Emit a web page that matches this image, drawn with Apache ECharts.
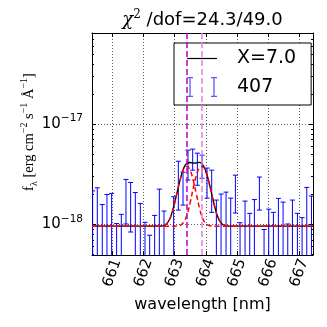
<!DOCTYPE html>
<html>
<head>
<meta charset="utf-8">
<script src="https://cdn.jsdelivr.net/npm/echarts@6/dist/echarts.min.js"></script>
<style>
  html, body { margin: 0; padding: 0; background: #fff; }
  #chart { width: 327px; height: 327px; }
</style>
</head>
<body>
<div id="chart"></div>
<script>
// spectral pixels [nm]
const wavelength = [660.37, 660.52, 660.68, 660.83, 660.98, 661.14, 661.29, 661.44, 661.59, 661.74,
  661.90, 662.05, 662.20, 662.36, 662.51, 662.66, 662.82, 662.97, 663.12, 663.27,
  663.43, 663.58, 663.73, 663.88, 664.04, 664.19, 664.34, 664.49, 664.65, 664.80,
  664.95, 665.10, 665.26, 665.41, 665.56, 665.72, 665.87, 666.02, 666.17, 666.33,
  666.48, 666.63, 666.78, 666.94, 667.09, 667.24, 667.39];
// flux and 1-sigma error, in 1e-18 erg/cm2/s/A
const flux = [1.24, 1.37, 0.68, 1.07, 1.13, 0.12, 0.36, 1.91, 1.73, 1.16,
  0.72, 0.15, -0.12, 0.32, 1.32, 0.46, -0.85, 0.98, 2.83, 2.44,
  4.14, 4.56, 3.80, 3.90, 2.74, 2.40, 0.83, 1.08, 1.16, 0.91,
  2.20, 0.14, 0.80, 0.39, 0.86, 2.18, -0.01, 0.52, 0.42, 0.91,
  0.76, 0.11, 0.84, 0.39, 0.27, 1.38, 1.00];
const fluxErr = [0.92, 0.95, 0.90, 0.92, 0.91, 0.90, 0.90, 0.90, 0.89, 0.92,
  0.90, 0.90, 0.90, 0.91, 0.93, 0.90, 0.90, 0.91, 1.44, 0.88,
  1.37, 1.08, 1.34, 1.01, 0.91, 1.08, 0.92, 0.93, 0.94, 0.92,
  0.90, 0.90, 0.91, 0.90, 0.91, 0.79, 0.90, 0.90, 0.90, 0.91,
  0.91, 0.90, 0.91, 0.90, 0.90, 0.96, 0.92];

// fitted model (same units), total and the two line components
const modelWave = [660.35, 662.4, 662.5, 662.6, 662.7, 662.8, 662.9, 663.0, 663.1, 663.2,
  663.3, 663.4, 663.5, 663.6, 663.7, 663.8, 663.9, 664.0, 664.1, 664.2,
  664.3, 664.4, 664.5, 664.6, 664.7, 664.8, 667.44];
const modelTotal = [0.96, 0.96, 0.961, 0.965, 0.99, 1.07, 1.26, 1.635, 2.226, 2.967,
  3.688, 4.09, 4.15, 4.089, 4.114, 4.156, 3.957, 3.391, 2.665, 1.953,
  1.45, 1.16, 1.03, 0.98, 0.965, 0.96, 0.96];
const modelComp1 = [0.96, 0.96, 0.961, 0.965, 0.99, 1.07, 1.26, 1.63, 2.22, 2.939,
  3.587, 3.795, 3.449, 2.737, 1.992, 1.448, 1.147, 1.019, 0.975, 0.963,
  0.96, 0.96, 0.96, 0.96, 0.96, 0.96, 0.96];
const modelComp2 = [0.96, 0.96, 0.96, 0.96, 0.96, 0.96, 0.96, 0.961, 0.966, 0.988,
  1.061, 1.255, 1.661, 2.312, 3.082, 3.668, 3.770, 3.332, 2.65, 1.95,
  1.45, 1.16, 1.03, 0.98, 0.965, 0.96, 0.96];

const lineCenters = [663.387, 663.868];
const lineColors = ['#bf00bf', '#e080e0'];

const xTicks = [661, 662, 663, 664, 665, 666, 667];
const yTickExp = [-18, -17];
const yMinor = [0.5, 0.6, 0.7, 0.8, 0.9, 2, 3, 4, 5, 6, 7, 8, 9, 20, 30, 40, 50, 60, 70];

const X_MIN = 660.35, X_MAX = 667.44;
const Y_MIN = -18.305, Y_MAX = -16.09;
const BAR_COLOR = '#0000ff';

// log10 of a value given in units of 1e-18
const lg = v => Math.log10(v) - 18;

const chart = echarts.init(document.getElementById('chart'), null, { renderer: 'canvas' });

const pairs = (xs, ys) => xs.map((x, i) => [x, lg(ys[i])]);

const errData = wavelength.map((w, i) => {
  const hi = flux[i] + fluxErr[i];
  const lo = flux[i] - fluxErr[i];
  return [w, hi > 0 ? lg(hi) : Y_MIN - 1, lo > 0 ? lg(lo) : Y_MIN - 1];
});

function renderErrorBar(params, api) {
  const top = api.coord([api.value(0), api.value(1)]);
  const bot = api.coord([api.value(0), api.value(2)]);
  const cap = 2.5;
  const style = { stroke: BAR_COLOR, lineWidth: 1 };
  return {
    type: 'group',
    children: [
      { type: 'line', shape: { x1: top[0], y1: top[1], x2: bot[0], y2: bot[1] }, style },
      { type: 'line', shape: { x1: top[0] - cap, y1: top[1], x2: top[0] + cap, y2: top[1] }, style },
      { type: 'line', shape: { x1: bot[0] - cap, y1: bot[1], x2: bot[0] + cap, y2: bot[1] }, style }
    ]
  };
}

// legend glyphs as small inline svgs: a plain line, and two capped error bars
const svgUri = body => 'data:image/svg+xml;charset=utf-8,' + encodeURIComponent(
  '<svg xmlns="http://www.w3.org/2000/svg" width="30" height="20" viewBox="0 0 30 20">' + body + '</svg>');
const LINE_IMG = svgUri('<path d="M0,10.5H30" stroke="#000" stroke-width="1.2" fill="none"/>');
const ERRBAR_IMG = svgUri('<path d="M3,0.5V19.5M27,0.5V19.5M0,0.5H6M0,19.5H6M24,0.5H30M24,19.5H30" ' +
  'stroke="#5a5aff" stroke-width="1.3" fill="none"/>');

const tickStyle = { show: true, inside: true, length: 4, lineStyle: { color: '#000', width: 1 } };
const frameLine = { show: true, onZero: false, lineStyle: { color: '#000', width: 1 } };
const gridLine = { show: true, lineStyle: { color: '#333', width: 0.8, type: [1, 2] } };

const option = {
  animation: false,
  backgroundColor: '#fff',
  title: {
    text: '{c|χ}{s|2}{t| /dof=24.3/49.0}',
    left: 202.5,
    top: 9,
    padding: 0,
    textAlign: 'center',
    textStyle: {
      fontWeight: 'normal',
      rich: {
        c: { fontFamily: 'DejaVu Serif', fontStyle: 'italic', fontWeight: 'normal', fontSize: 18, color: '#000', lineHeight: 22 },
        s: { fontFamily: 'DejaVu Serif', fontWeight: 'normal', fontSize: 12, color: '#000', verticalAlign: 'top', lineHeight: 22 },
        t: { fontFamily: 'DejaVu Sans', fontWeight: 'normal', fontSize: 18, color: '#000', lineHeight: 22 }
      }
    }
  },
  legend: {
    orient: 'vertical',
    left: 174,
    top: 43,
    padding: [5, 15, 8, 8],
    itemGap: 9,
    itemWidth: 0,
    itemHeight: 20,
    icon: 'none',
    selectedMode: false,
    backgroundColor: '#fff',
    borderColor: '#000',
    borderWidth: 1,
    borderRadius: 0,
    formatter: name => '{' + (name === '407' ? 'eb' : 'ln') + '|}{t|' + name + '}',
    textStyle: {
      rich: {
        ln: { width: 30, height: 20, backgroundColor: { image: LINE_IMG } },
        eb: { width: 30, height: 20, backgroundColor: { image: ERRBAR_IMG } },
        t: { fontFamily: 'DejaVu Sans', fontSize: 19, color: '#000', padding: [0, 0, 0, 20], lineHeight: 20 }
      }
    },
    data: ['X=7.0', '407']
  },
  grid: { left: 92, top: 33, width: 221, height: 222, containLabel: false, outerBoundsMode: 'none' },
  xAxis: [
    {
      type: 'value', position: 'bottom', min: X_MIN, max: X_MAX,
      axisLine: frameLine,
      axisTick: Object.assign({ customValues: xTicks }, tickStyle),
      splitLine: gridLine,
      axisLabel: {
        customValues: xTicks, rotate: 70, align: 'center', verticalAlign: 'middle', margin: 18,
        fontFamily: 'DejaVu Sans', fontSize: 15, color: '#000',
        formatter: v => String(Math.round(v))
      },
      name: 'wavelength [nm]', nameLocation: 'middle', nameGap: 42, nameMoveOverlap: false,
      nameTextStyle: { fontFamily: 'DejaVu Sans', fontSize: 16, color: '#000' }
    },
    {
      type: 'value', position: 'top', min: X_MIN, max: X_MAX,
      axisLine: frameLine,
      axisTick: Object.assign({ customValues: xTicks }, tickStyle),
      axisLabel: { show: false }, splitLine: { show: false }
    }
  ],
  yAxis: [
    {
      type: 'value', position: 'left', min: Y_MIN, max: Y_MAX,
      axisLine: frameLine,
      axisTick: Object.assign({ customValues: yTickExp }, tickStyle),
      splitLine: gridLine,
      axisLabel: {
        customValues: yTickExp, margin: 9,
        formatter: v => '{b|10}{s|' + (v < 0 ? '\u2212' + (-v) : v) + '}',
        rich: {
          b: { fontFamily: 'DejaVu Sans', fontSize: 15, color: '#000', lineHeight: 22 },
          s: { fontFamily: 'DejaVu Sans', fontSize: 10.5, color: '#000', verticalAlign: 'top', lineHeight: 22 }
        }
      }
    },
    {
      type: 'value', position: 'right', min: Y_MIN, max: Y_MAX,
      axisLine: frameLine,
      axisTick: Object.assign({ customValues: yTickExp }, tickStyle),
      axisLabel: { show: false }, splitLine: { show: false }
    },
    {
      // minor ticks on the left; carries the axis title
      type: 'value', position: 'left', min: Y_MIN, max: Y_MAX,
      axisLine: { show: false },
      axisTick: Object.assign({}, tickStyle, { customValues: yMinor.map(lg), length: 2 }),
      axisLabel: { show: false }, splitLine: { show: false },
      name: '{t|f}{sub|λ}{t| [erg cm}{sup|\u22122}{t| s}{sup|\u22121}{t| Å}{sup|\u22121}{t|]}',
      nameLocation: 'middle', nameRotate: 90, nameGap: 53,
      nameTextStyle: {
        padding: [0, 0, 0, 24],
        rich: {
          t: { fontFamily: 'Liberation Serif', fontSize: 14.5, color: '#000', lineHeight: 20 },
          sub: { fontFamily: 'Liberation Serif', fontSize: 10, color: '#000', verticalAlign: 'bottom', lineHeight: 20 },
          sup: { fontFamily: 'Liberation Serif', fontSize: 10, color: '#000', verticalAlign: 'top', lineHeight: 20 }
        }
      }
    },
    {
      type: 'value', position: 'right', min: Y_MIN, max: Y_MAX,
      axisLine: { show: false },
      axisTick: Object.assign({}, tickStyle, { customValues: yMinor.map(lg), length: 2 }),
      axisLabel: { show: false }, splitLine: { show: false }
    }
  ],
  series: [
    {
      name: '407',
      type: 'custom',
      renderItem: renderErrorBar,
      clip: true,
      encode: { x: 0, y: [1, 2] },
      itemStyle: { color: BAR_COLOR },
      data: errData,
      z: 2
    },
    {
      name: 'X=7.0',
      type: 'line',
      data: pairs(modelWave, modelTotal),
      smooth: true,
      symbol: 'none',
      clip: true,
      lineStyle: { color: '#000', width: 1.3 },
      itemStyle: { color: '#000' },
      z: 3,
      markLine: {
        silent: true,
        symbol: 'none',
        label: { show: false },
        data: lineCenters.map((c, i) => ({
          xAxis: c,
          lineStyle: { color: lineColors[i], width: 1.5, type: [6, 3] }
        }))
      }
    },
    {
      name: 'comp1',
      type: 'line',
      data: pairs(modelWave, modelComp1),
      smooth: true,
      symbol: 'none',
      clip: true,
      lineStyle: { color: '#ff0000', width: 1.5, type: [5, 3] },
      z: 4
    },
    {
      name: 'comp2',
      type: 'line',
      data: pairs(modelWave, modelComp2),
      smooth: true,
      symbol: 'none',
      clip: true,
      lineStyle: { color: '#ff0000', width: 1.5, type: [5, 3] },
      z: 4
    }
  ]
};

chart.setOption(option);
</script>
</body>
</html>
